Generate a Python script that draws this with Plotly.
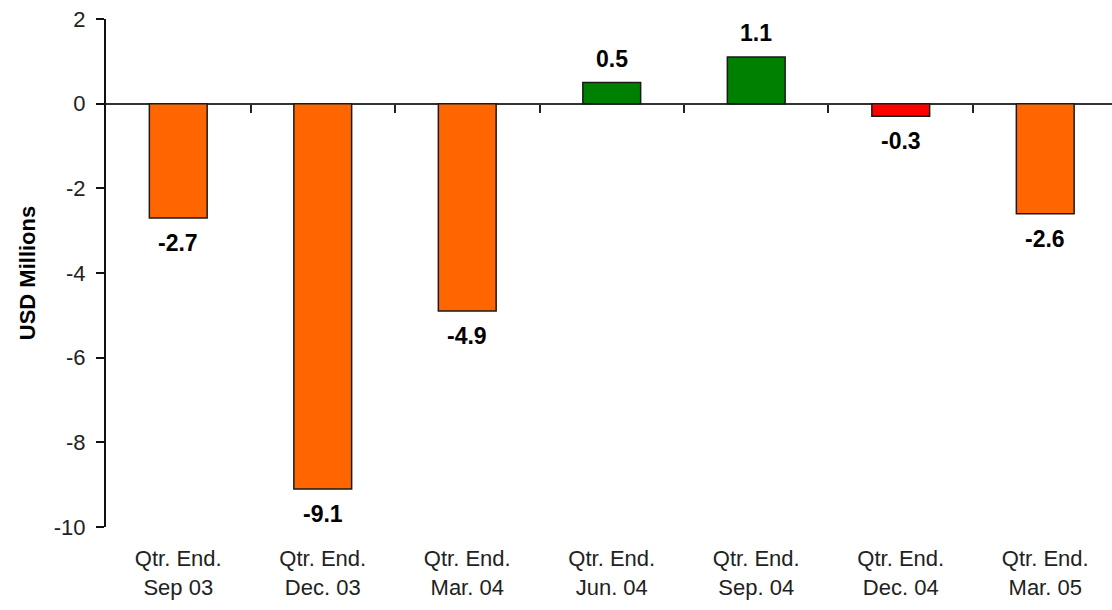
import plotly.graph_objects as go

# Quarterly results, USD millions
quarters = ["Qtr. End.<br>Sep 03", "Qtr. End.<br>Dec. 03", "Qtr. End.<br>Mar. 04",
            "Qtr. End.<br>Jun. 04", "Qtr. End.<br>Sep. 04", "Qtr. End.<br>Dec. 04",
            "Qtr. End.<br>Mar. 05"]
values = [-2.7, -9.1, -4.9, 0.5, 1.1, -0.3, -2.6]
bar_colors = ["#FF6600", "#FF6600", "#FF6600", "#008000", "#008000", "#FF0000", "#FF6600"]
y_ticks = [2, 0, -2, -4, -6, -8, -10]

FONT = "Liberation Sans, Arial, sans-serif"
positions = list(range(len(quarters)))
x_range = [-0.5, 6.462]

fig = go.Figure()
fig.add_trace(go.Bar(
    x=positions,
    y=values,
    width=0.4,
    marker=dict(color=bar_colors, line=dict(color="#1a1a1a", width=1.5)),
    hoverinfo="skip",
    showlegend=False,
))

# invisible trace so the separator axis on the zero line is rendered
fig.add_trace(go.Scatter(
    x=positions, y=values, xaxis="x2", yaxis="y",
    mode="markers", marker=dict(opacity=0),
    hoverinfo="skip", showlegend=False,
))

# value labels just beyond the end of each bar
for xi, v in zip(positions, values):
    fig.add_annotation(
        x=xi, y=v, text=f"<b>{v:.1f}</b>", showarrow=False,
        yshift=24 if v >= 0 else -25,
        font=dict(family=FONT, size=23, color="#000000"),
        xref="x", yref="y",
    )

fig.update_layout(
    width=1112, height=610,
    margin=dict(l=106, r=0, t=19, b=83),
    plot_bgcolor="white", paper_bgcolor="white",
    bargap=0.6,
    xaxis=dict(
        range=x_range,
        tickmode="array", tickvals=positions, ticktext=quarters,
        showline=False, ticks="", showgrid=False, zeroline=False,
        tickfont=dict(family=FONT, size=22, color="#222222"),
        ticklabelstandoff=16,
    ),
    # category separators drawn on the zero line
    xaxis2=dict(
        overlaying="x", anchor="free", position=10 / 12,
        range=x_range, tickmode="array",
        tickvals=[p + 0.5 for p in positions[:-1]],
        ticks="outside", ticklen=8, tickwidth=1.5, tickcolor="#222222",
        showticklabels=False, showline=False, showgrid=False, zeroline=False,
    ),
    yaxis=dict(
        range=[-10, 2], tickmode="array", tickvals=y_ticks,
        ticktext=[str(t) for t in y_ticks],
        ticks="outside", ticklen=8, tickwidth=1.5, tickcolor="#111111",
        showline=True, linecolor="#111111", linewidth=2,
        showgrid=False,
        zeroline=True, zerolinecolor="#333333", zerolinewidth=1.5,
        tickfont=dict(family=FONT, size=22, color="#222222"),
        ticklabelstandoff=6,
        title=dict(text="<b>USD Millions</b>", standoff=12,
                   font=dict(family=FONT, size=22, color="#000000")),
    ),
)

fig.write_html("out.html")
